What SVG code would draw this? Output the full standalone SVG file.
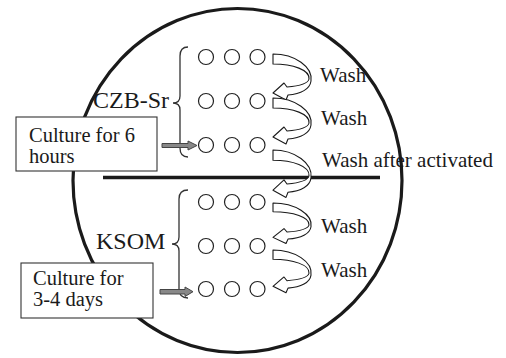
<svg xmlns="http://www.w3.org/2000/svg" width="506" height="358" viewBox="0 0 506 358" font-family="'Liberation Serif', 'Times New Roman', serif">
<style>
text{font-family:'Liberation Serif','Times New Roman',serif;fill:#1a1a1a}
.lbl{font-size:24px}
.wash{font-size:21px}
.bt{font-size:20.5px}
.box{fill:#fff;stroke:#333;stroke-width:1.1}
.well{fill:#fff;stroke:#222;stroke-width:1.2}
.brace{fill:none;stroke:#333;stroke-width:1.3}
.curv{fill:#fff;stroke:#1a1a1a;stroke-width:1.1;stroke-linejoin:round}
.garrow{fill:#888;stroke:#444;stroke-width:1}
</style>
<defs>
<path id="warr" class="curv" d="M0,0 C22,0 40,13 38,27 C37,35 28,40 15,41 L13,46 L0,39 L11,29 L14,33 C26,32 35,30 36,25 C37,16 20,10 0,10 Z"/>
<g id="row">
<circle class="well" cx="0" cy="0" r="7.5"/>
<circle class="well" cx="26" cy="0" r="7.5"/>
<circle class="well" cx="51.5" cy="0" r="7.5"/>
</g>
</defs>
<ellipse cx="237.5" cy="180.5" rx="164.5" ry="172" fill="none" stroke="#1a1a1a" stroke-width="3.2"/>
<line x1="103" y1="177.5" x2="380" y2="177.5" stroke="#1a1a1a" stroke-width="3.4"/>
<g id="wells">
<use href="#row" x="206" y="57"/>
<use href="#row" x="206" y="101"/>
<use href="#row" x="206" y="145"/>
<use href="#row" x="206" y="202"/>
<use href="#row" x="206" y="246"/>
<use href="#row" x="206" y="289"/>
</g>
<g id="connectors">
<use href="#warr" transform="translate(273,54)"/>
<use href="#warr" transform="translate(273,98)"/>
<use href="#warr" transform="translate(273,150) scale(1,1.03)"/>
<use href="#warr" transform="translate(273,203) scale(1,0.88)"/>
<use href="#warr" transform="translate(273,250) scale(1,0.93)"/>
<path class="brace" d="M188,47 Q180,47 180,56 L180,96 Q180,103 173,103 Q180,103 180,110 L180,148 Q180,157 188,157"/>
<path class="brace" d="M188,190 Q179,190 179,199 L179,237 Q179,244 172,244 Q179,244 179,251 L179,289 Q179,298 188,298"/>
<path class="garrow" d="M162,143.5 L188,143.5 L188,141 L197,145.5 L188,150 L188,147.5 L162,147.5 Z"/>
<path class="garrow" d="M160,289.5 L185,289.5 L185,287 L193,291.7 L185,296.5 L185,294 L160,294 Z"/>
</g>
<g id="czb"><text class="lbl" x="93" y="107.5">CZB-Sr</text></g>
<g id="ksom"><text class="lbl" x="96" y="249">KSOM</text></g>
<g id="box1">
<rect class="box" x="16" y="117" width="141" height="54"/>
<text class="bt" x="29" y="142">Culture for 6</text>
<text class="bt" x="29" y="163">hours</text>
</g>
<g id="box2">
<rect class="box" x="21" y="263" width="132" height="55"/>
<text class="bt" x="33" y="285">Culture for</text>
<text class="bt" x="33" y="306">3-4 days</text>
</g>
<g id="labels">
<text class="wash" x="320" y="82">Wash</text>
<text class="wash" x="321" y="125">Wash</text>
<text class="wash" x="322" y="166.5">Wash after activated</text>
<text class="wash" x="321" y="232.5">Wash</text>
<text class="wash" x="321" y="276.5">Wash</text>
</g>
</svg>
